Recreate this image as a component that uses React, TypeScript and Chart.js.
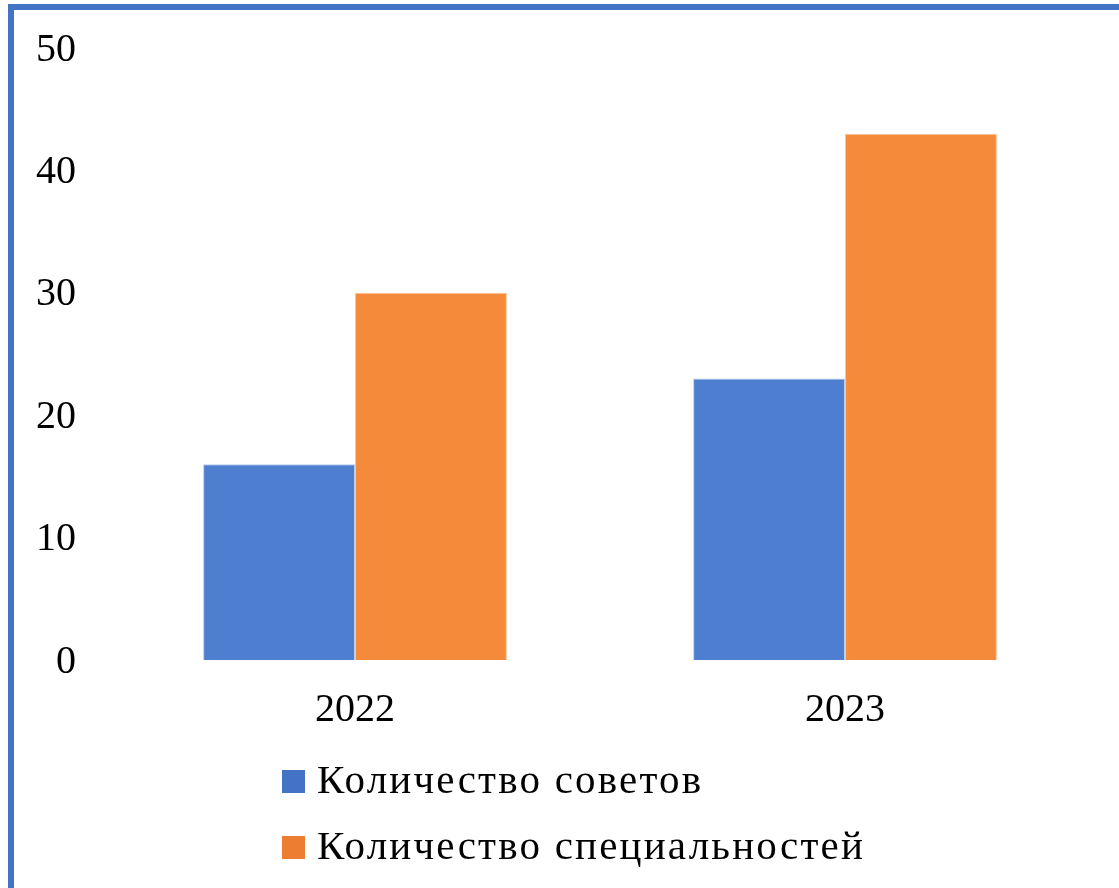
import React, { useEffect, useRef } from "react";
import { Chart, registerables } from "chart.js";

Chart.register(...registerables);

const categories = ["2022", "2023"];
const seriesNames = ["Количество советов", "Количество специальностей"];
const councils = [16, 23];
const specialties = [30, 43];
const yTicks = [0, 10, 20, 30, 40, 50];

const BAR_COLORS = ["#4E7ECF", "#F68A3B"];
const LEGEND_COLORS = ["#4472C4", "#ED7D31"];
const FONT = '"Liberation Serif", "Times New Roman", serif';
const TICK_SIZE = 40;
const LEGEND_SIZE = 41;

const stackedLegend = {
  id: "stackedLegend",
  afterDraw(chart: any) {
    const ctx = chart.ctx;
    ctx.save();
    ctx.font = `${LEGEND_SIZE}px ${FONT}`;
    try {
      (ctx as any).letterSpacing = "2.2px";
    } catch (e) {}
    ctx.textBaseline = "middle";
    ctx.textAlign = "left";
    const box = 23;
    const gap = 12;
    const texts = chart.data.datasets.map((d: any) => d.label as string);
    const maxW = Math.max(...texts.map((t: string) => ctx.measureText(t).width));
    const x0 = Math.round(chart.width / 2 - (box + gap + maxW) / 2 + 7);
    const baseY = chart.chartArea.bottom + 121.5;
    texts.forEach((t: string, i: number) => {
      const cy = baseY + i * 66;
      ctx.fillStyle = LEGEND_COLORS[i];
      ctx.fillRect(x0, Math.round(cy - box / 2), box, box);
      ctx.fillStyle = "#000000";
      ctx.fillText(t, x0 + box + gap, cy + 1);
    });
    ctx.restore();
  },
};

export default function App() {
  const ref = useRef<HTMLCanvasElement | null>(null);

  useEffect(() => {
    if (!ref.current) return;
    const chart = new Chart(ref.current, {
      type: "bar",
      data: {
        labels: categories,
        datasets: [
          {
            label: seriesNames[0],
            data: councils,
            backgroundColor: BAR_COLORS[0],
            borderColor: "rgba(180,200,240,0.9)",
            borderWidth: 1,
            categoryPercentage: 0.62,
            barPercentage: 1,
          },
          {
            label: seriesNames[1],
            data: specialties,
            backgroundColor: BAR_COLORS[1],
            borderColor: "rgba(250,190,150,0.9)",
            borderWidth: 1,
            categoryPercentage: 0.62,
            barPercentage: 1,
          },
        ],
      },
      options: {
        responsive: false,
        animation: false,
        devicePixelRatio: 1,
        layout: { padding: { left: 0, top: 0, right: 29, bottom: 0 } },
        plugins: {
          legend: { display: false },
          tooltip: { enabled: false },
        },
        scales: {
          x: {
            grid: { display: false, drawTicks: false },
            border: { display: false },
            ticks: {
              color: "#000000",
              padding: 26,
              font: { family: FONT, size: TICK_SIZE },
            },
            afterFit(scale: any) {
              scale.height = 228;
            },
          },
          y: {
            min: 0,
            max: 50,
            grid: { display: false, drawTicks: false },
            border: { display: false },
            afterBuildTicks(scale: any) {
              scale.ticks = yTicks.map((v) => ({ value: v }));
            },
            ticks: {
              color: "#000000",
              padding: 34,
              labelOffset: 2,
              font: { family: FONT, size: TICK_SIZE },
            },
            afterFit(scale: any) {
              scale.width = 96;
              scale.paddingTop = 38;
              scale.paddingBottom = 0;
            },
          },
        },
      },
      plugins: [stackedLegend],
    });
    return () => chart.destroy();
  }, []);

  return (
    <div
      style={{
        position: "fixed",
        left: 8,
        top: 4,
        width: 1111,
        height: 884,
        borderLeft: "6px solid #4472C4",
        borderTop: "6px solid #4472C4",
        boxSizing: "border-box",
        background: "#ffffff",
        overflow: "hidden",
      }}
    >
      <canvas ref={ref} width={1105} height={878} style={{ display: "block" }} />
    </div>
  );
}
